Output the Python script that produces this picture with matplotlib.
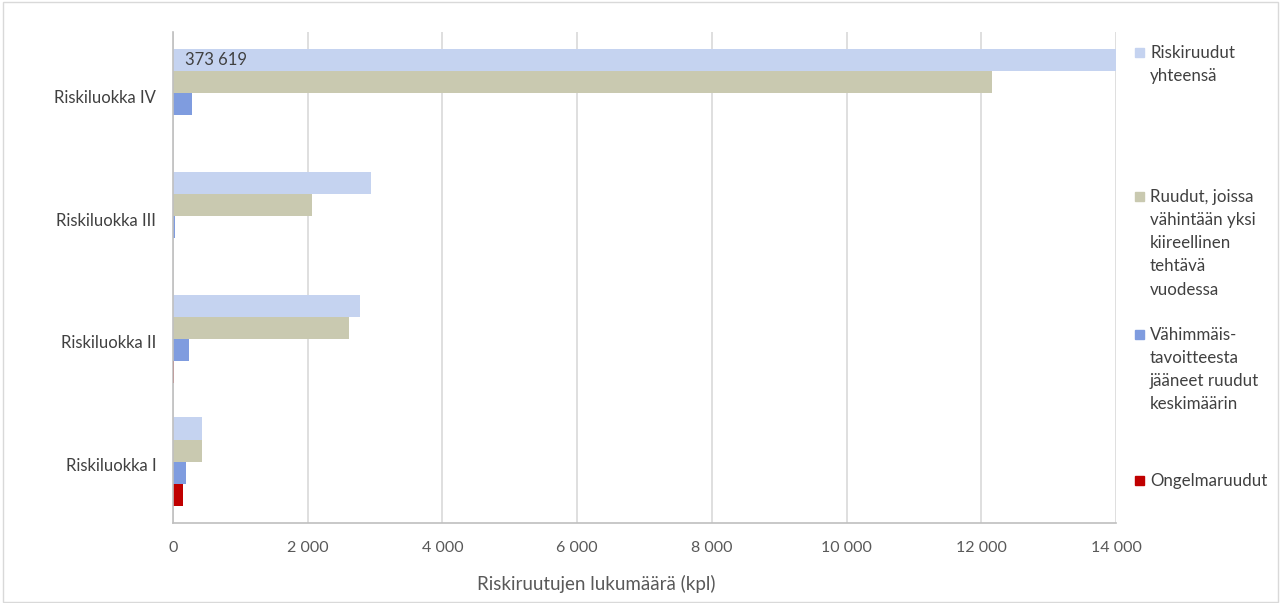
import matplotlib
matplotlib.use('Agg')
import matplotlib.pyplot as plt
from matplotlib.patches import Rectangle
import numpy as np

# ---------------------- Data

categories = ['Riskiluokka I', 'Riskiluokka II', 'Riskiluokka III', 'Riskiluokka IV']
total      = [430, 2776, 2940, 373619]     # Riskiruudut yhteensä
urgent     = [430, 2613, 2063, 12160]      # vähintään yksi kiireellinen tehtävä
below_min  = [193, 237, 30, 282]           # vähimmäistavoitteesta jääneet
problem    = [148, 20, 0, 0]               # ongelmaruudut

series_names = ['Riskiruudut\nyhteensä',
                'Ruudut, joissa\nvähintään yksi\nkiireellinen\ntehtävä\nvuodessa',
                'Vähimmäis-\ntavoitteesta\njääneet ruudut\nkeskimäärin',
                'Ongelmaruudut']
colors = ['#C5D3F0', '#C9C9B0', '#7F9CDF', '#C00000']

xmax = 14000
xticks = np.arange(0, 14001, 2000)

plt.rcParams['font.family'] = ['Lato', 'DejaVu Sans']

def fmt(v):
    # Finnish style thousands separator
    return f'{v:,}'.replace(',', ' ')

# ---------------------- Plot

W, H = 1281, 603
fig = plt.figure(figsize=(W/100, H/100), dpi=100)
ax = fig.add_axes([173/W, 1-523/H, (1116-173)/W, (523-32)/H])

y = np.arange(len(categories))
h = 0.18
data = [total, urgent, below_min, problem]
for k, (vals, c) in enumerate(zip(data, colors)):
    off = (1.5 - k) * h
    ax.barh(y + off, vals, height=h, color=c, zorder=2)

# value label for the clipped bar
i = 3
ax.text(180, y[i] + 1.5*h, fmt(total[i]), va='center', ha='left',
        fontsize=12, color='#404040', zorder=3)

ax.set_xlim(0, xmax)
ax.set_ylim(-0.5, len(categories) - 0.5)
ax.set_xticks(xticks)
ax.set_xticklabels([fmt(int(t)) for t in xticks], fontsize=11.5, color='#595959')
ax.set_yticks(y - 0.025)
ax.set_yticklabels(categories, fontsize=12, color='#404040')
ax.tick_params(axis='x', length=0, pad=13)
ax.tick_params(axis='y', length=0, pad=12)
ax.grid(axis='x', color='#D9D9D9', linewidth=1.2, zorder=0)
for s in ['top', 'right']:
    ax.spines[s].set_visible(False)
for s in ['left', 'bottom']:
    ax.spines[s].set_color('#BFBFBF')
    ax.spines[s].set_linewidth(1.2)

fig.text(596/W, 1-584/H, 'Riskiruutujen lukumäärä (kpl)', fontsize=13.5,
         color='#595959', ha='center', va='center')

# legend on the right
leg_y = [52, 196, 334, 480]
for name, c, ly in zip(series_names, colors, leg_y):
    fig.patches.append(Rectangle((1135/W, 1-(ly+5)/H), 9/W, 9/H,
                                 transform=fig.transFigure, color=c))
    fig.text(1150/W, 1-(ly-7)/H, name, va='top', ha='left',
             fontsize=12.2, color='#404040', linespacing=1.55)

# outer frame
fig.patches.append(Rectangle((0.002, 0.002), 0.996, 0.994, transform=fig.transFigure,
                             fill=False, edgecolor='#D9D9D9', linewidth=1))

plt.savefig('out.png', dpi=100)
